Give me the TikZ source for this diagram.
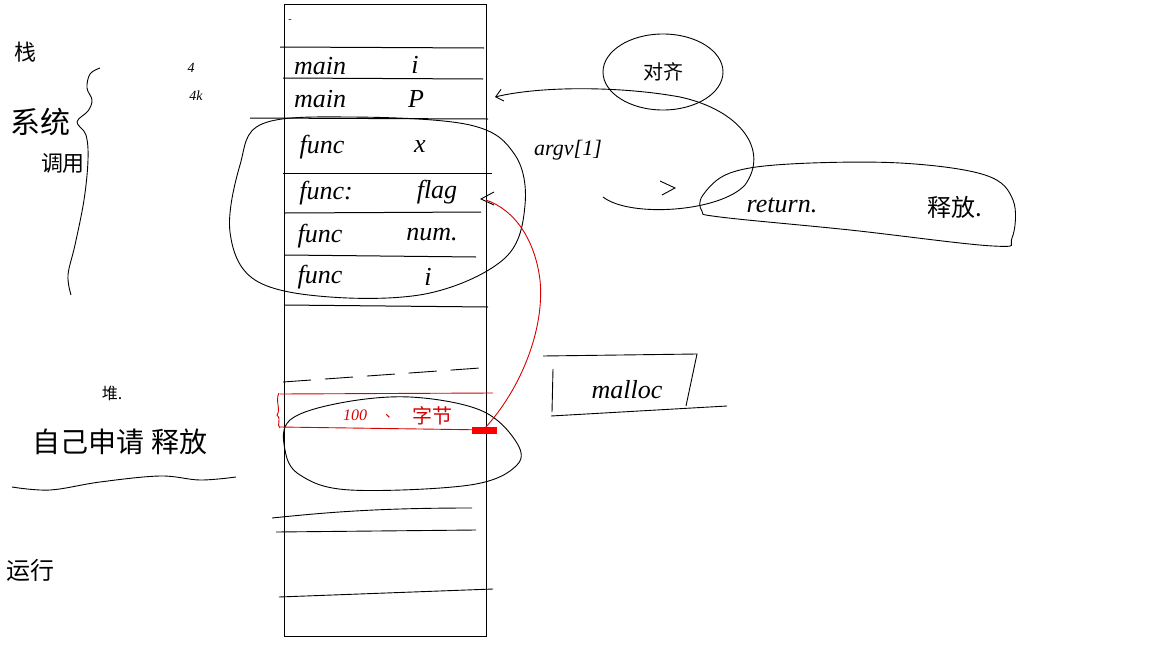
\documentclass[tikz,border=0pt]{standalone}
\usepackage{fontspec}
\setmainfont{Liberation Serif}
\newfontfamily\cjk{Noto Sans CJK SC}
\usetikzlibrary{arrows.meta}
\begin{document}
\begin{tikzpicture}[x=1pt,y=-1pt,line width=0.9pt,
  lat/.style={font=\itshape\fontsize{26}{26}\selectfont,inner sep=0pt},
  han/.style={font=\cjk\fontsize{#1}{#1}\selectfont,inner sep=0pt},
  han/.default=24,
  redink/.style={draw=red!85!black,line width=0.9pt},
  rowline/.style={draw=black,line width=1pt}]
\useasboundingbox[fill=white] (0,0) rectangle (1152,648);

% memory column
\node[draw,line width=1pt,minimum width=202pt,minimum height=632pt,inner sep=0pt,anchor=north west] (mem) at (284,4) {};
\node[lat,font=\fontsize{10}{10}\selectfont] (dot) at (290,21) {-};

% row separators
\coordinate (l1a) at (280,47);  \coordinate (l1b) at (484,48);
\coordinate (l2a) at (283,78);  \coordinate (l2b) at (483,79);
\coordinate (l3a) at (250,118); \coordinate (l3b) at (488,119);
\coordinate (l4a) at (283,173); \coordinate (l4b) at (492,173);
\coordinate (l5a) at (285,213); \coordinate (l5b) at (481,212);
\coordinate (l6a) at (285,255); \coordinate (l6b) at (476,257);
\coordinate (l7a) at (284,305); \coordinate (l7b) at (488,307);
\foreach \i in {1,...,7} {\draw[rowline] (l\i a) -- (l\i b);}

% row texts
\node[lat] (r1a) at (320,66) {main}; \node[lat] (r1b) at (415,65) {i};
\node[lat] (r2a) at (320,99) {main}; \node[lat] (r2b) at (416,99) {P};
\node[lat] (r3a) at (322,147) {func}; \node[lat] (r3b) at (420,147) {x};
\node[lat] (r4a) at (326,193) {func:}; \node[lat] (r4b) at (437,192) {flag};
\node[lat] (r5a) at (320,236) {func}; \node[lat] (r5b) at (432,235) {num.};
\node[lat] (r6a) at (320,277) {func}; \node[lat] (r6b) at (428,277) {i};

% frame ellipse around func rows
\draw plot[smooth cycle,tension=0.6] coordinates {(262,124) (350,117) (470,125) (515,155) (525,205) (505,258) (430,293) (330,297) (255,280) (230,232) (240,165)};

% stack brace on the left
\draw plot[smooth,tension=0.6] coordinates {(100,68) (90,74) (87,88) (92,100) (88,111) (77,122) (86,135) (88,160) (84,200) (75,245) (68,275) (71,295)};

% left labels
\node[han=22] (zhan) at (25,52) {栈};
\node[han=30] (xitong) at (40,122) {系统};
\node[han=22] (diaoyong) at (63,163) {调用};
\node[lat,font=\itshape\fontsize{14}{14}\selectfont] (four) at (191,68) {4};
\node[lat,font=\itshape\fontsize{14}{14}\selectfont] (fourk) at (196,96) {4k};

% argv
\node[lat,font=\itshape\fontsize{22}{22}\selectfont] (argv) at (568,150) {argv[1]};

% alignment circle
\node[han=20] (duiqi) at (663,72) {对齐};
\draw (duiqi) ellipse[x radius=60pt,y radius=38pt];

% return ellipse
\node[lat] (ret) at (782,205) {return.};
\node[han=24] (shifang) at (955,207) {释放.};
\draw plot[smooth cycle,tension=0.6] coordinates {(703,195) (730,173) (790,164) (900,163) (985,175) (1013,200) (1012,238) (993,246) (850,230) (720,217) (702,211)};

% return loop arrow into "main P"
\coordinate (loopend) at (603,197);
\draw[-{Straight Barb[length=7pt,width=12pt]}] (loopend) .. controls (630,218) and (720,212) .. (745,185)
  .. controls (770,150) and (740,110) .. (680,97)
  .. controls (620,86) and (540,86) .. (495,97);
\draw (660,181) -- (675,188) -- (662,195);

% heap part
\draw[dashed,dash pattern=on 28pt off 14pt] (283,382) -- (480,368);
\node[han=16] (dui) at (112,393) {堆.};
\node[han=28] (ziji) at (120,442) {自己申请 释放};
\draw plot[smooth,tension=0.6] coordinates {(12,487) (50,490) (100,482) (160,476) (200,480) (236,477)};
\node[han=24] (yunxing) at (30,570) {运行};

% heap block ellipse
\draw plot[smooth cycle,tension=0.6] coordinates {(290,420) (340,403) (410,397) (480,410) (515,440) (517,465) (470,485) (350,490) (300,475) (285,450)};

% red allocated block
\draw[redink] (280,394) -- (493,393);
\draw[redink] (280,427) -- (490,430);
\draw[redink] (279,393) .. controls (275,400) and (281,410) .. (277,415) .. controls (282,420) and (276,425) .. (280,428);
\fill[red] (472,427) rectangle (497,434);
\node[font=\itshape\fontsize{16}{16}\selectfont,text=red!85!black,inner sep=0pt] (hundred) at (355,415) {100};
\node[font=\cjk\fontsize{14}{14}\selectfont,text=red!85!black,inner sep=0pt] (dun) at (392,416) {、};
\node[font=\cjk\fontsize{20}{20}\selectfont,text=red!85!black,inner sep=0pt] (zijie) at (432,416) {字节};
\coordinate (blk) at (485,428);
\coordinate (flagtip) at (486,200);
\draw[redink] (blk) .. controls (520,390) and (545,330) .. (540,280) .. controls (535,240) and (515,210) .. (flagtip);
\draw (494,192) -- (481,199) -- (494,205);

% malloc box
\node[lat,font=\itshape\fontsize{26}{26}\selectfont] (malloc) at (627,390) {malloc};
\draw (543,356) -- (697,354) -- (686,406);
\draw (553,369) -- (552,412);
\draw (551,416) -- (727,406);

% lower lines
\draw (272,518) .. controls (330,512) and (380,508) .. (472,508);
\draw (276,532) -- (476,530);
\draw (279,597) -- (493,589);
\end{tikzpicture}
\end{document}
